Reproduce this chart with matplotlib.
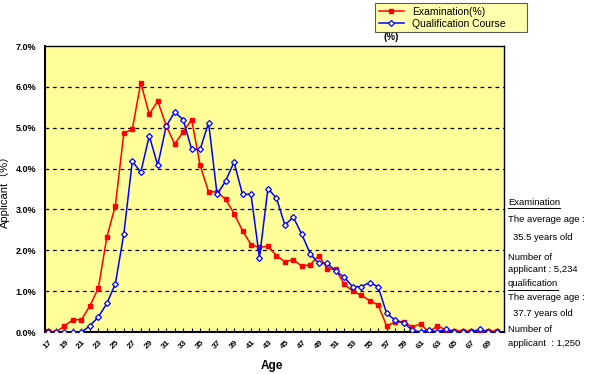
import matplotlib
matplotlib.use("Agg")
import matplotlib.pyplot as plt
from matplotlib.lines import Line2D

plt.rcParams['font.family'] = ['Liberation Sans', 'Noto Sans CJK JP', 'DejaVu Sans']

# 年齢 17〜70
ages = list(range(17, 71))

# 受験者 (%)
examination = [0.03, 0.00, 0.15, 0.30, 0.30, 0.64, 1.08, 2.33, 3.09, 4.87,
               4.96, 6.10, 5.33, 5.65, 5.05, 4.60, 4.90, 5.20, 4.08, 3.43,
               3.43, 3.25, 2.90, 2.48, 2.14, 2.07, 2.10, 1.87, 1.72, 1.77,
               1.61, 1.65, 1.87, 1.55, 1.53, 1.17, 1.00, 0.90, 0.77, 0.66,
               0.15, 0.24, 0.25, 0.13, 0.19, 0.00, 0.15, 0.05, 0.03, 0.03,
               0.02, 0.00, 0.03, 0.02]

# 資格講座 (%)
qualification = [0.00, 0.00, 0.00, 0.00, 0.00, 0.15, 0.37, 0.70, 1.18, 2.40,
                 4.18, 3.91, 4.80, 4.08, 5.04, 5.38, 5.20, 4.47, 4.47, 5.12,
                 3.37, 3.69, 4.16, 3.37, 3.37, 1.82, 3.51, 3.28, 2.62, 2.81,
                 2.39, 1.91, 1.68, 1.68, 1.49, 1.34, 1.11, 1.11, 1.21, 1.11,
                 0.46, 0.29, 0.23, 0.05, 0.00, 0.05, 0.00, 0.07, 0.00, 0.00,
                 0.00, 0.07, 0.00, 0.00]

x_labels = list(range(17, 70, 2))
y_ticks = [0, 1, 2, 3, 4, 5, 6, 7]

side_notes = [
    ("Examination", 203, True, 0),
    ("The average age :", 220, False, 0),
    ("35.5 years old", 237, False, 5),
    ("Number of", 257, False, 0),
    ("applicant : 5,234", 270, False, 0),
    ("qualification", 284, True, 0),
    ("The average age :", 298, False, 0),
    ("37.7 years old", 314, False, 5),
    ("Number of", 330, False, 0),
    ("applicant  : 1,250", 343, False, 0),
]

W, H = 590, 374
fig = plt.figure(figsize=(W / 100, H / 100), dpi=100)
ax = fig.add_axes([45 / W, 1 - 332 / H, (504 - 45) / W, (332 - 46) / H])
ax.set_facecolor('#FFFF99')

red_style = dict(color='red', lw=1.1, marker='s', ms=3, mfc='red', mec='red')
blue_style = dict(color='blue', lw=1.1, marker='D', ms=3, mfc='white',
                  mec='blue', mew=0.9)

ax.plot(ages, examination, zorder=3, **red_style)
ax.plot(ages, qualification, zorder=4, **blue_style)

ax.set_xlim(16.7, 70.85)
ax.set_ylim(0, 7)

ax.set_yticks(y_ticks)
ax.set_yticklabels([f"{v:.1f}%" for v in y_ticks], fontsize=6.5, fontweight='bold')
ax.tick_params(axis='y', length=0, pad=6)
for v in y_ticks[1:-1]:
    ax.axhline(v, color='black', lw=0.9, ls=(0, (3, 3)), zorder=1)

ax.set_xticks(ages, minor=True)
ax.set_xticks(x_labels)
ax.set_xticklabels([str(a) for a in x_labels], rotation=45, fontsize=6,
                   fontweight='bold', ha='center')
ax.tick_params(axis='x', which='both', direction='in', length=3, width=0.8, pad=5)

for s in ['left', 'bottom']:
    ax.spines[s].set_linewidth(1.5)
for s in ['top', 'right']:
    ax.spines[s].set_linewidth(1.0)

ax.set_ylabel("Applicant（%）", fontsize=8, labelpad=4)
fig.text(272 / W, 1 - 366 / H, "Age", fontsize=8.5, fontweight='bold',
         ha='center', va='center')

handles = [Line2D([], [], **red_style), Line2D([], [], **blue_style)]
leg = fig.legend(handles, ["Examination(%)", "Qualification Course      "],
                 loc='upper left', bbox_to_anchor=(375 / W, 1 - 3 / H),
                 fontsize=7.5, frameon=True, fancybox=False, handlelength=2.4,
                 borderpad=0.35, labelspacing=0.2, handletextpad=0.8,
                 borderaxespad=0)
leg.get_frame().set_facecolor('#FFFF99')
leg.get_frame().set_edgecolor('#333333')
leg.get_frame().set_linewidth(0.8)

fig.text(383 / W, 1 - 37 / H, "(%)", fontsize=7, fontweight='bold',
         ha='left', va='center')

for txt, y, ul, indent in side_notes:
    t = fig.text((508 + indent) / W, 1 - y / H, txt, fontsize=6.8,
                 ha='left', va='center')
    if ul:
        fig.canvas.draw()
        bb = t.get_window_extent()
        fig.add_artist(Line2D([bb.x0 / W, bb.x1 / W],
                              [(bb.y0 - 1) / H, (bb.y0 - 1) / H],
                              color='black', lw=0.7))

fig.savefig("out.png", dpi=100)
